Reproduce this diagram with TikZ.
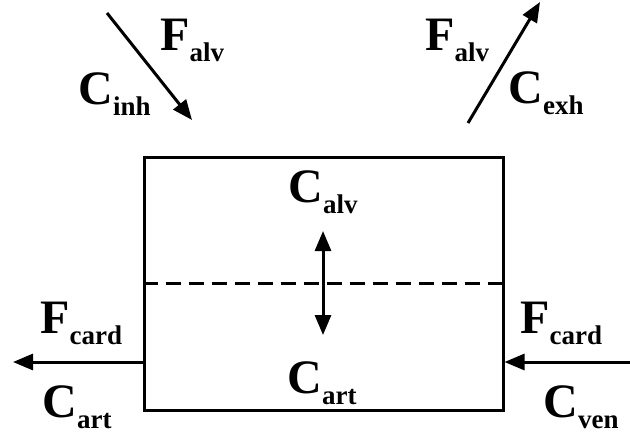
\documentclass[tikz,border=0pt]{standalone}
\usepackage{fontspec}
\setmainfont{Liberation Serif}
\usepackage{tikz}
\usetikzlibrary{arrows.meta}

\newcommand\lab[2]{#1\raisebox{-0.23em}{\fontsize{13.5}{14}\selectfont #2}}

\begin{document}
\begin{tikzpicture}[
    x=0.5pt, y=-0.5pt,
    >={Triangle[length=10pt,width=8pt]},
    flow/.style={->, line width=1.5pt},
    lbl/.style={anchor=base west, inner sep=0pt, font=\fontsize{24}{26}\selectfont\bfseries},
    lungbox/.style={draw, line width=1.5pt, minimum width=179.5pt, minimum height=126.5pt, inner sep=0pt}
]
\useasboundingbox (0,0) rectangle (630,435);

\node[lungbox] (lung) at (323.5,283.5) {};
\draw[line width=1.5pt, dash pattern=on 7.5pt off 4pt] (lung.west) -- (lung.east);

% exchange across the membrane
\coordinate (up) at (323,231);
\coordinate (dn) at (323,335);
\draw[<->, line width=1.5pt] (dn) -- (up);

% ventilation
\coordinate (inA) at (107,13);
\coordinate (inB) at (192,120);
\coordinate (exA) at (468,123);
\coordinate (exB) at (540,2);
\draw[flow] (inA) -- (inB);
\draw[flow] (exA) -- (exB);

% perfusion
\coordinate (artOut) at (13,362);
\coordinate (venIn) at (630,362);
\draw[flow] (lung.west |- artOut) -- (artOut);
\draw[flow] (venIn) -- (lung.east |- venIn);

\node[lbl] (falvIn) at (160,50) {\lab{F}{alv}};
\node[lbl] (cinh) at (78,104) {\lab{C}{inh}};
\node[lbl] (falvEx) at (425,50) {\lab{F}{alv}};
\node[lbl] (cexh) at (508,103) {\lab{C}{exh}};
\node[lbl] (calv) at (288,202) {\lab{C}{alv}};
\node[lbl] (cartIn) at (287,393) {\lab{C}{art}};
\node[lbl] (fcardL) at (40,333) {\lab{F}{card}};
\node[lbl] (cartOut) at (42,417) {\lab{C}{art}};
\node[lbl] (fcardR) at (520,333) {\lab{F}{card}};
\node[lbl] (cven) at (543,417) {\lab{C}{ven}};
\end{tikzpicture}
\end{document}
